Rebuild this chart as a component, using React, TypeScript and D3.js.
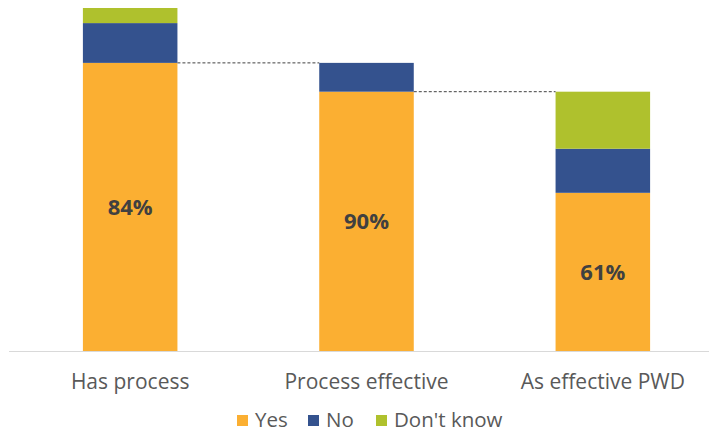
import React from "react";
import * as d3 from "d3";

const categories = ["Has process", "Process effective", "As effective PWD"];
const seriesNames = ["Yes", "No", "Don't know"];
const yesValues = [84, 90, 61];
const noValues = [11.6, 10, 17];
const dontKnowValues = [4.4, 0, 22];
const colors = ["#FBAF32", "#34528E", "#AFC12D"];

const W = 709;
const H = 432;
const baseline = 351;
const top = 8;

export default function App() {
  const x = d3.scaleBand().domain(categories).range([12, 721]).paddingInner(0.6).paddingOuter(0.3);
  const y = d3.scaleLinear().domain([0, 100]).range([baseline, top]);

  // each bar's total equals the previous bar's "Yes" share
  const scales: number[] = [];
  let s = 1;
  categories.forEach((_, i) => {
    scales.push(s);
    s = s * (yesValues[i] / 100);
  });

  const bars = categories.map((c, i) => {
    const vals = [yesValues[i], noValues[i], dontKnowValues[i]];
    let acc = 0;
    const segs = vals.map((v, k) => {
      const y0 = acc * scales[i];
      acc += v;
      const y1 = acc * scales[i];
      return { k, y0, y1 };
    });
    return { c, i, segs };
  });

  const bw = x.bandwidth();
  const font = "'Open Sans', sans-serif";
  const legendX = [237, 308, 376];

  return (
    <svg width={W} height={H} style={{ position: "absolute", left: 0, top: 0, background: "#fff" }}>
      {bars.map((b) => (
        <g key={b.c}>
          {b.segs.filter((sg) => sg.y1 > sg.y0).map((sg) => (
            <rect
              key={sg.k}
              x={x(b.c)}
              y={y(sg.y1)}
              width={bw}
              height={y(sg.y0) - y(sg.y1)}
              fill={colors[sg.k]}
            />
          ))}
          <text
            x={(x(b.c) as number) + bw / 2}
            y={(y(b.segs[0].y0) + y(b.segs[0].y1)) / 2 + 8}
            textAnchor="middle"
            fontFamily={font}
            fontWeight="bold"
            fontSize={22}
            fill="#404040"
          >
            {yesValues[b.i]}%
          </text>
          <text
            x={(x(b.c) as number) + bw / 2}
            y={389}
            textAnchor="middle"
            fontFamily={font}
            fontSize={21}
            fill="#595959"
          >
            {b.c}
          </text>
        </g>
      ))}
      {bars.slice(0, -1).map((b, i) => {
        const next = categories[i + 1];
        const yy = y(b.segs[0].y1);
        return (
          <line
            key={"d" + i}
            x1={(x(b.c) as number) + bw}
            x2={x(next) as number}
            y1={yy}
            y2={yy}
            stroke="#404040"
            strokeWidth={1}
            strokeDasharray="3,2"
          />
        );
      })}
      <line x1={9} x2={709} y1={baseline + 0.5} y2={baseline + 0.5} stroke="#D9D9D9" strokeWidth={1} />
      {seriesNames.map((n, k) => (
        <g key={n}>
          <rect x={legendX[k]} y={415} width={11} height={11} fill={colors[k]} />
          <text x={legendX[k] + 18} y={427} fontFamily={font} fontSize={20.5} fill="#595959">
            {n}
          </text>
        </g>
      ))}
    </svg>
  );
}
